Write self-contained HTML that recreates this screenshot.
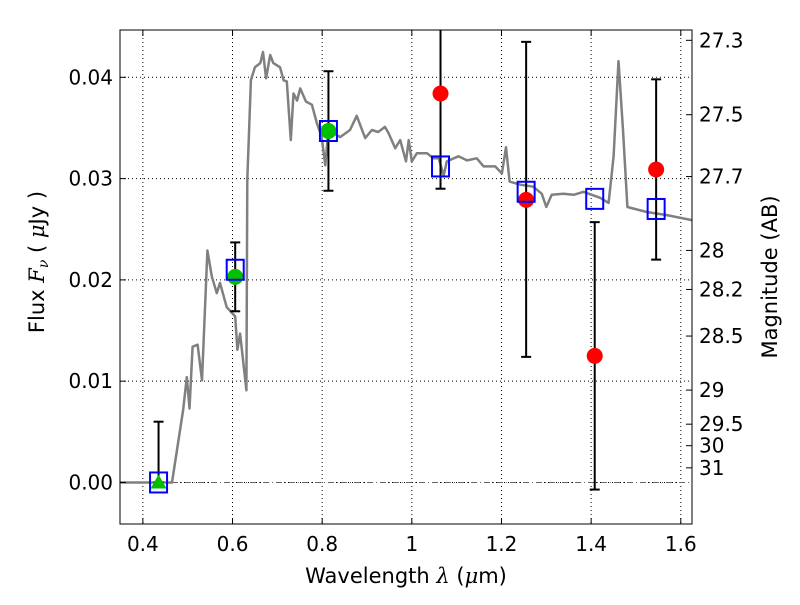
<!DOCTYPE html>
<html><head><meta charset="utf-8"><style>
body{margin:0;background:#fff}
svg text{font-family:"DejaVu Sans","Liberation Sans",sans-serif;fill:#000}
</style></head><body>
<svg id="c" width="800" height="600" xmlns="http://www.w3.org/2000/svg"></svg>
<script>
const modelWave=[0.349,0.465,0.49,0.498,0.504,0.511,0.522,0.532,0.544,0.554,0.565,0.572,0.587,0.606,0.611,0.617,0.631,0.633,0.641,0.650,0.662,0.668,0.675,0.684,0.691,0.706,0.714,0.721,0.730,0.736,0.744,0.751,0.764,0.777,0.788,0.799,0.807,0.814,0.840,0.862,0.877,0.896,0.911,0.925,0.940,0.948,0.963,0.974,0.987,0.993,1.0,1.011,1.034,1.048,1.060,1.071,1.078,1.104,1.123,1.145,1.160,1.186,1.201,1.210,1.218,1.242,1.271,1.290,1.300,1.312,1.338,1.361,1.383,1.420,1.439,1.450,1.461,1.471,1.481,1.498,1.524,1.569,1.625];
const modelFlux=[0,0,0.0072,0.0104,0.0073,0.0134,0.0136,0.0101,0.0229,0.0203,0.0187,0.0197,0.0173,0.0164,0.0131,0.0147,0.0091,0.0299,0.0397,0.0410,0.0414,0.0425,0.0399,0.0422,0.0414,0.0410,0.0397,0.0396,0.0338,0.0384,0.0377,0.0389,0.0376,0.0373,0.0355,0.0341,0.0313,0.0348,0.0341,0.0348,0.0362,0.0340,0.0348,0.0346,0.0351,0.0345,0.0330,0.0338,0.0317,0.0338,0.0317,0.0325,0.0325,0.0320,0.0320,0.0303,0.0317,0.0322,0.0318,0.0320,0.0312,0.0312,0.0305,0.0331,0.0297,0.0294,0.0292,0.0285,0.0272,0.0284,0.0285,0.0284,0.0287,0.0281,0.0276,0.0322,0.0416,0.0348,0.0272,0.0270,0.0267,0.0264,0.0259];
const bandWave=[0.435,0.606,0.814,1.064,1.255,1.408,1.545];
const bandModel=[0.0,0.0210,0.0347,0.0312,0.0287,0.0280,0.0270];
const detWave=[0.606,0.814];
const detFlux=[0.0203,0.0347];
const triWave=[0.435];
const triFlux=[0.0];
const obsWave=[1.064,1.255,1.408,1.545];
const obsFlux=[0.0384,0.0279,0.0125,0.0309];
const errWave=[0.435,0.606,0.814,1.064,1.255,1.408,1.545];
const errLo=[0.0,0.0169,0.0288,0.0290,0.0124,-0.0007,0.0220];
const errHi=[0.0060,0.0237,0.0406,0.050,0.0435,0.0257,0.0398];
const xTicks=[0.4,0.6,0.8,1.0,1.2,1.4,1.6];
const xTickLabels=["0.4","0.6","0.8","1","1.2","1.4","1.6"];
const yTicks=[0,0.01,0.02,0.03,0.04];
const yTickLabels=["0.00","0.01","0.02","0.03","0.04"];
const magTicks=[27.3,27.5,27.7,28,28.2,28.5,29,29.5,30,31];
const magLabels=["27.3","27.5","27.7","28","28.2","28.5","29","29.5","30","31"];

const L=120,R=692,T=30,B=524;
const X0=0.349,X1=1.625,Y0=-0.0041,Y1=0.04467;
const sx=w=>L+(w-X0)/(X1-X0)*(R-L);
const sy=f=>B-(f-Y0)/(Y1-Y0)*(B-T);
const NS="http://www.w3.org/2000/svg";
const svg=document.getElementById('c');
function mk(tag,attrs,parent){const e=document.createElementNS(NS,tag);for(const k in attrs)e.setAttribute(k,attrs[k]);(parent||svg).appendChild(e);return e;}
const defs=mk('defs',{});const cp=mk('clipPath',{id:'clip'},defs);mk('rect',{x:L,y:T,width:R-L,height:B-T},cp);
const plot=mk('g',{'clip-path':'url(#clip)'});


xTicks.forEach(v=>{const g=mk('line',{x1:sx(v),x2:sx(v),y1:T,y2:B,stroke:'#000','stroke-width':1,'stroke-dasharray':'1,3'},plot);

});
yTicks.forEach(v=>{const g=mk('line',{x1:L,x2:R,y1:sy(v),y2:sy(v),stroke:'#000','stroke-width':1,'stroke-dasharray':'1,3'},plot);

});
const zl=mk('line',{x1:L,x2:R,y1:sy(0),y2:sy(0),stroke:'#666','stroke-width':1,'stroke-dasharray':'6,3,1,3'},plot);


const pth=mk('path',{d:modelWave.map((w,i)=>(i?'L':'M')+sx(w).toFixed(1)+','+sy(modelFlux[i]).toFixed(1)).join(''),fill:'none',stroke:'#808080','stroke-width':2.5,'stroke-linejoin':'round'},plot);


errWave.forEach((w,i)=>{const x=sx(w);
const l=mk('line',{x1:x,x2:x,y1:sy(errLo[i]),y2:sy(errHi[i]),stroke:'#000','stroke-width':2},plot);


[errLo[i],errHi[i]].forEach(v=>{const c=mk('line',{x1:x-5,x2:x+5,y1:sy(v),y2:sy(v),stroke:'#000','stroke-width':2},plot);

});});
detWave.forEach((w,i)=>{const c=mk('circle',{cx:sx(w),cy:sy(detFlux[i]),r:8,fill:'#00c000'},plot);

});
triWave.forEach((w,i)=>{const x=sx(w),y=sy(triFlux[i]);const t=mk('polygon',{points:`${x},${y-8} ${x-8},${y+6} ${x+8},${y+6}`,fill:'#00c000'},plot);

});
obsWave.forEach((w,i)=>{const c=mk('circle',{cx:sx(w),cy:sy(obsFlux[i]),r:8,fill:'#ff0000'},plot);

});
bandWave.forEach((w,i)=>{const s=mk('rect',{x:sx(w)-8.5,y:sy(bandModel[i])-10,width:17,height:20,fill:'none',stroke:'#0000ff','stroke-width':2},plot);

});
const fr=mk('rect',{x:L,y:T,width:R-L,height:B-T,fill:'none',stroke:'#000','stroke-width':1});


xTicks.forEach((v,i)=>{const x=sx(v);mk('line',{x1:x,x2:x,y1:B,y2:B-6,stroke:'#000'});mk('line',{x1:x,x2:x,y1:T,y2:T+6,stroke:'#000'});
const t=mk('text',{x:x,y:B+27,'text-anchor':'middle','font-size':20});t.textContent=xTickLabels[i];

});
yTicks.forEach((v,i)=>{const y=sy(v);mk('line',{x1:L,x2:L+6,y1:y,y2:y,stroke:'#000'});
const t=mk('text',{x:L-7,y:y+7,'text-anchor':'end','font-size':20});t.textContent=yTickLabels[i];

});
magTicks.forEach((m,i)=>{const y=sy(Math.pow(10,(23.9-m)/2.5));mk('line',{x1:R,x2:R-6,y1:y,y2:y,stroke:'#000'});
const t=mk('text',{x:R+7,y:y+7,'font-size':20});t.textContent=magLabels[i];

});
</script>
<svg width="800" height="600" style="position:absolute;left:0;top:0" xmlns="http://www.w3.org/2000/svg">
<text x="406" y="583" text-anchor="middle" font-size="21">Wavelength  <tspan font-style="italic" font-family="DejaVu Serif,serif">λ</tspan> (<tspan font-style="italic" font-family="DejaVu Serif,serif">μ</tspan>m)</text>
<text transform="translate(44,262) rotate(-90)" text-anchor="middle" font-size="21">Flux  <tspan font-style="italic" font-family="DejaVu Serif,serif">F<tspan font-size="14" dy="4">ν</tspan></tspan><tspan dy="-4">  (  </tspan><tspan font-style="italic" font-family="DejaVu Serif,serif">μ</tspan>Jy )</text>
<text transform="translate(777,277) rotate(-90)" text-anchor="middle" font-size="21">Magnitude (AB)</text>
</svg>
</body></html>
